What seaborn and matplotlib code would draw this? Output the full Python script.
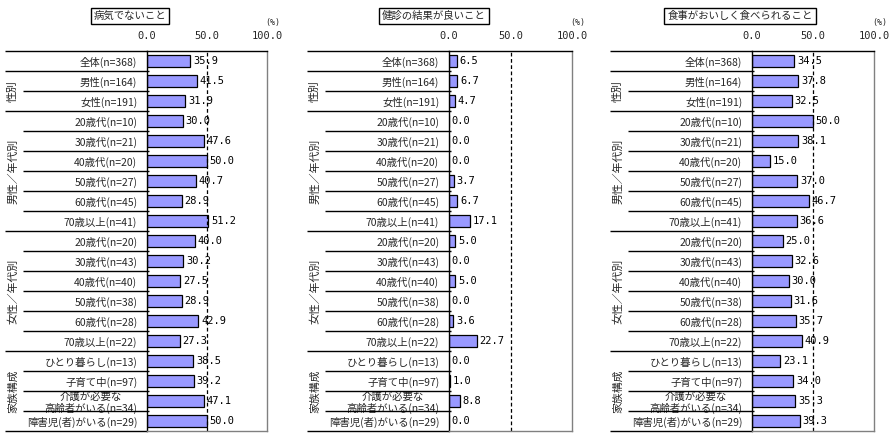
import matplotlib
matplotlib.use("Agg")
import matplotlib.pyplot as plt
import matplotlib.transforms as mtransforms
import seaborn as sns
import pandas as pd

# ---------------- data ----------------
row_labels = [
    "全体(n=368)", "男性(n=164)", "女性(n=191)",
    "20歳代(n=10)", "30歳代(n=21)", "40歳代(n=20)", "50歳代(n=27)", "60歳代(n=45)", "70歳以上(n=41)",
    "20歳代(n=20)", "30歳代(n=43)", "40歳代(n=40)", "50歳代(n=38)", "60歳代(n=28)", "70歳以上(n=22)",
    "ひとり暮らし(n=13)", "子育て中(n=97)", "介護が必要な\n高齢者がいる(n=34)", "障害児(者)がいる(n=29)",
]
group_names = ["性別", "男性／年代別", "女性／年代別", "家族構成"]
group_spans = [(1, 2), (3, 8), (9, 14), (15, 18)]
titles = ["病気でないこと", "健診の結果が良いこと", "食事がおいしく食べられること"]

values_sick = [35.9, 41.5, 31.9, 30.0, 47.6, 50.0, 40.7, 28.9, 51.2,
               40.0, 30.2, 27.5, 28.9, 42.9, 27.3, 38.5, 39.2, 47.1, 50.0]
values_checkup = [6.5, 6.7, 4.7, 0.0, 0.0, 0.0, 3.7, 6.7, 17.1,
                  5.0, 0.0, 5.0, 0.0, 3.6, 22.7, 0.0, 1.0, 8.8, 0.0]
values_meal = [34.5, 37.8, 32.5, 50.0, 38.1, 15.0, 37.0, 46.7, 36.6,
               25.0, 32.6, 30.0, 31.6, 35.7, 40.9, 23.1, 34.0, 35.3, 39.3]
x_ticks = [0, 50, 100]
x_tick_labels = ["0.0", "50.0", "100.0"]

all_values = [values_sick, values_checkup, values_meal]

# ---------------- style ----------------
sns.set_style("white")
plt.rcParams["font.family"] = ["Noto Sans CJK JP", "DejaVu Sans"]

W, H = 891, 436
fig = plt.figure(figsize=(W / 100, H / 100), dpi=100)

panel_left = [147, 449, 752]
panel_width = [120, 123, 122]
title_cx = [130, 434, 740]
top_px, bot_px = 51, 431

full_breaks = [-0.5, 0.5, 2.5, 8.5, 14.5, 18.5]
short_breaks = [1.5, 3.5, 4.5, 5.5, 6.5, 7.5, 9.5, 10.5, 11.5, 12.5, 13.5, 15.5, 16.5, 17.5]

for p in range(3):
    L, Wd = panel_left[p], panel_width[p]
    ax = fig.add_axes([L / W, (H - bot_px) / H, Wd / W, (bot_px - top_px) / H])
    df = pd.DataFrame({"label": row_labels, "value": all_values[p]})
    sns.barplot(data=df, x="value", y="label", orient="h", color="#9999FF",
                saturation=1, edgecolor="black", linewidth=0.9, width=0.6, ax=ax)
    ax.set_xlim(0, 100)
    ax.set_ylim(18.5, -0.5)
    ax.set_xlabel("")
    ax.set_ylabel("")

    # value labels
    ax.bar_label(ax.containers[0], fmt="%.1f", padding=2, fontsize=7.5,
                 family="DejaVu Sans Mono", color="black")

    # dashed 50 line
    ax.axvline(50, color="black", lw=0.9, ls=(0, (3, 2)))

    # top ticks
    ax.xaxis.tick_top()
    ax.set_xticks(x_ticks)
    ax.set_xticklabels(x_tick_labels, family="DejaVu Sans Mono", fontsize=7.5)
    ax.tick_params(axis="x", length=0, pad=7.5)
    ax.text(1.0, 1.0, "(%)", transform=ax.transAxes + mtransforms.ScaledTranslation(13 / 100, 24 / 100, fig.dpi_scale_trans),
            ha="right", va="bottom", fontsize=6, family="DejaVu Sans Mono")

    # row labels
    ax.set_yticks(range(len(row_labels)))
    ax.set_yticklabels(row_labels, fontsize=7.5, linespacing=1.15, multialignment="center")
    ax.tick_params(axis="y", length=0, pad=7)

    # spines
    for s in ["left", "top"]:
        ax.spines[s].set_color("black")
        ax.spines[s].set_linewidth(1)
    for s in ["right", "bottom"]:
        ax.spines[s].set_color("#808080")
        ax.spines[s].set_linewidth(1)

    # separator lines in label area
    trans = mtransforms.blended_transform_factory(ax.transAxes, ax.transData)
    xl_full = -142 / Wd
    xl_short = -124 / Wd
    xr = 2 / Wd
    for b in full_breaks:
        ax.plot([xl_full, 0 if b in (-0.5, 18.5) else xr], [b, b], color="black", lw=1,
                transform=trans, clip_on=False, solid_capstyle="butt")
    for b in short_breaks:
        ax.plot([xl_short, xr], [b, b], color="black", lw=1,
                transform=trans, clip_on=False, solid_capstyle="butt")

    # group labels
    for name, (a, b) in zip(group_names, group_spans):
        ax.text(-134 / Wd, (a + b) / 2, name, transform=trans, rotation=90,
                ha="center", va="center", fontsize=7.8, clip_on=False)

    # title box
    fig.text(title_cx[p] / W, 1 - 16 / H, titles[p], ha="center", va="center", fontsize=7.5,
             bbox=dict(boxstyle="square,pad=0.3", fc="white", ec="black", lw=1))

fig.savefig("out.png", dpi=100)
